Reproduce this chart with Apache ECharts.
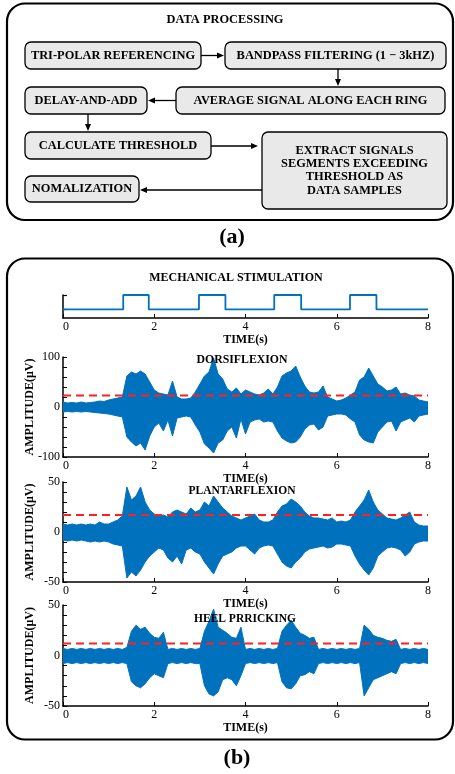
<!DOCTYPE html>
<html>
<head>
<meta charset="utf-8">
<script src="https://cdn.jsdelivr.net/npm/echarts@6/dist/echarts.min.js"></script>
<style>
html,body{margin:0;padding:0;background:#fff;}
#main{width:455px;height:774px;}
</style>
</head>
<body>
<div id="main"></div>
<script>
// flow diagram labels
var flowSteps = ['TRI-POLAR REFERENCING', 'BANDPASS FILTERING (1 \u2212 3kHZ)', 'AVERAGE SIGNAL ALONG EACH RING',
    'DELAY-AND-ADD', 'CALCULATE THRESHOLD', 'EXTRACT SIGNALS\nSEGMENTS EXCEEDING\nTHRESHOLD AS\nDATA SAMPLES', 'NOMALIZATION'];
var panelTitles = ['MECHANICAL STIMULATION', 'DORSIFLEXION', 'PLANTARFLEXION', 'HEEL PRRICKING'];

// stimulation on/off
var stimTimes = [0, 1.32, 1.88, 2.98, 3.56, 4.63, 5.22, 6.29, 6.87, 8];
var stimLevels = [0, 1, 0, 1, 0, 1, 0, 1, 0, 0];

// envelope of the recorded signals, read every 0.1 s
var sampleTimes = [0, 0.1, 0.2, 0.3, 0.4, 0.5, 0.6, 0.7, 0.8, 0.9,
    1, 1.1, 1.2, 1.3, 1.4, 1.5, 1.6, 1.7, 1.8, 1.9,
    2, 2.1, 2.2, 2.3, 2.4, 2.5, 2.6, 2.7, 2.8, 2.9,
    3, 3.1, 3.2, 3.3, 3.4, 3.5, 3.6, 3.7, 3.8, 3.9,
    4, 4.1, 4.2, 4.3, 4.4, 4.5, 4.6, 4.7, 4.8, 4.9,
    5, 5.1, 5.2, 5.3, 5.4, 5.5, 5.6, 5.7, 5.8, 5.9,
    6, 6.1, 6.2, 6.3, 6.4, 6.5, 6.6, 6.7, 6.8, 6.9,
    7, 7.1, 7.2, 7.3, 7.4, 7.5, 7.6, 7.7, 7.8, 7.9, 8];

var dorsiUpper = [10, 8, 9, 8, 10, 8, 9, 10, 12, 11,
    14, 16, 18, 20, 62, 70, 66, 72, 66, 50,
    34, 28, 26, 24, 52, 20, 16, 16, 18, 30,
    46, 62, 70, 98, 66, 56, 36, 30, 38, 26,
    34, 30, 26, 24, 28, 36, 26, 40, 62, 68,
    72, 82, 60, 42, 30, 28, 30, 42, 20, 16,
    12, 14, 18, 24, 30, 54, 60, 78, 62, 46,
    40, 32, 34, 40, 26, 28, 24, 22, 14, 12, 10];
var dorsiLower = [-10, -9, -10, -9, -10, -9, -10, -11, -12, -13,
    -14, -16, -18, -20, -60, -70, -78, -72, -86, -58,
    -40, -32, -48, -26, -58, -22, -20, -18, -20, -36,
    -50, -74, -82, -92, -72, -66, -48, -40, -62, -24,
    -54, -30, -26, -24, -30, -28, -30, -48, -62, -68,
    -72, -70, -60, -44, -36, -34, -46, -40, -18, -16,
    -14, -14, -16, -24, -30, -56, -66, -70, -72, -50,
    -40, -30, -28, -48, -30, -26, -22, -30, -18, -16, -14];

var plantarUpper = [8, 7, 8, 7, 8, 7, 8, 7, 10, 8,
    8, 10, 12, 16, 45, 32, 36, 45, 30, 22,
    18, 16, 17, 15, 20, 22, 20, 18, 24, 20,
    22, 30, 26, 36, 30, 24, 20, 16, 14, 12,
    14, 16, 18, 12, 10, 10, 12, 20, 26, 28,
    33, 30, 26, 20, 16, 14, 14, 13, 12, 14,
    10, 11, 10, 12, 20, 26, 32, 42, 30, 22,
    18, 14, 13, 12, 14, 17, 20, 10, 7, 6, 6];
var plantarLower = [-8, -9, -8, -9, -8, -9, -10, -9, -10, -9,
    -10, -12, -13, -14, -46, -40, -44, -38, -30, -24,
    -20, -16, -18, -26, -30, -24, -32, -18, -16, -20,
    -22, -30, -36, -42, -32, -24, -22, -20, -16, -14,
    -14, -18, -22, -16, -14, -13, -14, -22, -30, -34,
    -36, -30, -26, -20, -17, -16, -15, -14, -16, -15,
    -12, -12, -13, -14, -24, -32, -38, -43, -36, -24,
    -20, -16, -15, -16, -18, -24, -20, -12, -10, -9, -9];

var heelUpper = [7, 6, 7, 6, 7, 6, 7, 6, 7, 6,
    7, 6, 7, 6, 8, 24, 30, 26, 28, 22,
    18, 17, 23, 6, 7, 6, 7, 6, 7, 6,
    7, 24, 34, 46, 28, 25, 22, 18, 17, 28,
    6, 7, 6, 7, 6, 7, 6, 7, 24, 30,
    35, 28, 22, 20, 17, 18, 6, 7, 6, 7,
    6, 7, 6, 7, 6, 7, 30, 26, 20, 18,
    17, 15, 14, 16, 6, 7, 6, 7, 6, 7, 6];
var heelLower = [-8, -7, -8, -7, -8, -7, -8, -7, -8, -7,
    -8, -7, -8, -7, -8, -26, -30, -32, -28, -22,
    -18, -20, -22, -8, -7, -8, -7, -8, -7, -8,
    -8, -30, -38, -40, -36, -24, -22, -24, -30, -20,
    -8, -7, -8, -7, -8, -7, -8, -7, -26, -32,
    -33, -28, -20, -19, -16, -18, -8, -7, -8, -7,
    -8, -7, -8, -7, -8, -7, -40, -32, -24, -22,
    -20, -18, -16, -18, -8, -7, -8, -7, -8, -7, -8];

var thresholds = [23, 17, 12];

var FONT = 'Liberation Serif';
var BLUE = '#0072BD';

function pairs(xs, ys) {
    return xs.map(function (x, i) { return [x, ys[i]]; });
}

var grids = [
    {left: 63, right: 27, top: 295, height: 23},
    {left: 63, right: 27, top: 357, height: 100},
    {left: 63, right: 27, top: 482, height: 100},
    {left: 63, right: 27, top: 605, height: 101}
];

var xAxes = grids.map(function (g, i) {
    return {
        type: 'value', gridIndex: i, min: 0, max: 8, interval: 2,
        name: 'TIME(s)', nameLocation: 'middle', nameGap: i === 0 ? 16 : 11,
        nameTextStyle: {fontFamily: FONT, fontWeight: 'bold', fontSize: 12, color: '#000'},
        axisLine: {onZero: false, lineStyle: {color: '#000', width: 1.5}},
        axisTick: {inside: true, length: 4, lineStyle: {color: '#000', width: 1}},
        axisLabel: {color: '#000', fontFamily: FONT, fontSize: 12, margin: 3, alignMinLabel: 'left'},
        splitLine: {show: false}
    };
});

var yRanges = [[-0.6, 1, 1], [-100, 100, 20], [-50, 50, 10], [-50, 50, 10]];
var yAxes = yRanges.map(function (r, i) {
    var ax = {
        type: 'value', gridIndex: i, min: r[0], max: r[1], interval: r[2],
        axisLine: {show: true, onZero: false, lineStyle: {color: '#000', width: 1.5}},
        axisTick: {show: true, inside: true, length: 4, lineStyle: {color: '#000', width: 1}},
        axisLabel: {color: '#000', fontFamily: FONT, fontSize: 12, margin: 3,
            formatter: function (v) { return (v % r[1] === 0) ? String(v) : ''; }},
        splitLine: {show: false}
    };
    if (i === 0) {
        ax.axisLabel = {show: false};
        ax.axisTick = {show: true, inside: true, length: 4, customValues: [0, 1], lineStyle: {color: '#000', width: 1.2}};
    } else {
        ax.name = 'AMPLITUDE(\u03bcV)';
        ax.nameLocation = 'middle';
        ax.nameRotate = 90;
        ax.nameGap = 27;
        ax.nameMoveOverlap = false;
        ax.nameTextStyle = {fontFamily: FONT, fontWeight: 'bold', fontSize: 12, color: '#000'};
    }
    return ax;
});

var series = [{
    type: 'line', xAxisIndex: 0, yAxisIndex: 0, step: 'end', symbol: 'none',
    data: pairs(stimTimes, stimLevels),
    lineStyle: {color: BLUE, width: 1.8}
}];

// each envelope filled towards zero; the two fills overlap a little round zero
var signals = [[dorsiUpper, dorsiLower], [plantarUpper, plantarLower], [heelUpper, heelLower]];
signals.forEach(function (sig, k) {
    sig.forEach(function (vals, j) {
        series.push({
            type: 'line', xAxisIndex: k + 1, yAxisIndex: k + 1, symbol: 'none',
            data: pairs(sampleTimes, vals),
            lineStyle: {color: BLUE, width: 1},
            areaStyle: {color: BLUE, opacity: 1, origin: j === 0 ? -3 : 3}
        });
    });
    series.push({
        type: 'line', xAxisIndex: k + 1, yAxisIndex: k + 1, symbol: 'none', z: 5,
        data: [[0, thresholds[k]], [8, thresholds[k]]],
        lineStyle: {color: '#ff2020', width: 2, type: [8, 5]}
    });
});

// flow diagram
var boxPos = [[25, 42, 176, 27], [225, 42, 221, 27], [176, 87, 269, 27], [25, 87, 122, 27],
    [25, 132, 186, 27], [262, 132, 185, 77], [25, 176, 114, 26]];
var arrows = [[201, 55.5, 224, 55.5], [338, 69, 338, 86], [176, 100.5, 148, 100.5],
    [88, 114, 88, 131], [211, 146, 258, 146], [262, 190, 140, 190]];

var graphics = [];
graphics.push({type: 'rect', shape: {x: 7, y: 3.5, width: 446, height: 216.5, r: 18},
    style: {fill: 'none', stroke: '#000', lineWidth: 2.2}});
graphics.push({type: 'rect', shape: {x: 7, y: 258.5, width: 446, height: 481, r: 18},
    style: {fill: 'none', stroke: '#000', lineWidth: 2.2}});

boxPos.forEach(function (b, i) {
    graphics.push({type: 'rect', shape: {x: b[0], y: b[1], width: b[2], height: b[3], r: 6},
        style: {fill: '#e9e9e9', stroke: '#000', lineWidth: 1.3}});
    graphics.push({type: 'text', style: {text: flowSteps[i], x: b[0] + b[2] / 2, y: b[1] + b[3] / 2,
        textAlign: 'center', textVerticalAlign: 'middle', fontFamily: FONT, fontWeight: 'bold',
        fontSize: 12.4, lineHeight: 13.3, fill: '#000'}});
});

arrows.forEach(function (a) {
    var ang = Math.atan2(a[3] - a[1], a[2] - a[0]), L = 7, W = 3;
    var bx = a[2] - L * Math.cos(ang), by = a[3] - L * Math.sin(ang);
    var px = -Math.sin(ang) * W, py = Math.cos(ang) * W;
    graphics.push({type: 'line', shape: {x1: a[0], y1: a[1], x2: bx, y2: by},
        style: {stroke: '#000', lineWidth: 1.3}});
    graphics.push({type: 'polygon', shape: {points: [[a[2], a[3]], [bx + px, by + py], [bx - px, by - py]]},
        style: {fill: '#000'}});
});

function label(txt, x, y, size) {
    graphics.push({type: 'text', z: 100, style: {text: txt, x: x, y: y, textAlign: 'center',
        textVerticalAlign: 'middle', fontFamily: FONT, fontWeight: 'bold', fontSize: size, fill: '#000'}});
}
label('DATA PROCESSING', 225, 20, 12.4);
label(panelTitles[0], 236, 278, 12);
label(panelTitles[1], 242, 360, 11.8);
label(panelTitles[2], 242, 491.5, 11.5);
label(panelTitles[3], 245, 619, 11.5);
label('(a)', 232, 237, 22);
label('(b)', 237, 758, 22);

var chart = echarts.init(document.getElementById('main'));
chart.setOption({
    animation: false,
    backgroundColor: '#fff',
    textStyle: {fontFamily: FONT},
    grid: grids,
    xAxis: xAxes,
    yAxis: yAxes,
    series: series,
    graphic: {elements: graphics}
});
</script>
</body>
</html>
